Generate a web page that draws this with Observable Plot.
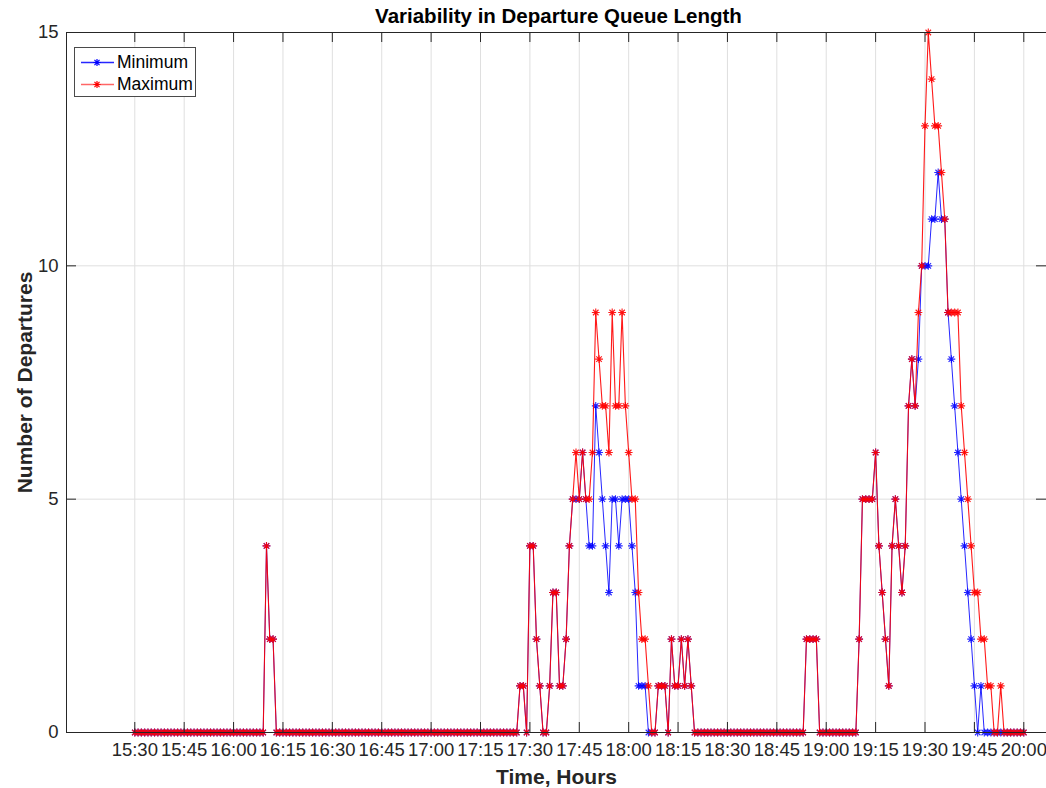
<!DOCTYPE html>
<html><head><meta charset="utf-8">
<script src="https://cdn.jsdelivr.net/npm/d3@7"></script>
<script src="https://cdn.jsdelivr.net/npm/@observablehq/plot@0.6"></script>
<style>
body{margin:0;background:#fff;}
#wrap{position:relative;width:1046px;height:788px;overflow:hidden;font-family:"Liberation Sans",Arial,Helvetica,sans-serif;}
#legend{position:absolute;left:74px;top:47px;width:120px;height:48px;border:1px solid #4a4a4a;background:#fff;}
.lrow{position:absolute;left:0;height:20px;width:120px;}
.lrow svg{position:absolute;left:6px;top:0;}
.lrow span{position:absolute;left:42px;top:0;line-height:20px;font-size:17.5px;color:#000;}
</style></head><body><div id="wrap"></div><script>
// ---- data ----
const startTime = "15:30";           // first sample, one sample per minute
const minValues = [
  0,0,0,0,0,0,0,0,0,0,   // 15:30
  0,0,0,0,0,0,0,0,0,0,   // 15:40
  0,0,0,0,0,0,0,0,0,0,   // 15:50
  0,0,0,0,0,0,0,0,0,0,   // 16:00
  4,2,2,0,0,0,0,0,0,0,   // 16:10
  0,0,0,0,0,0,0,0,0,0,   // 16:20
  0,0,0,0,0,0,0,0,0,0,   // 16:30
  0,0,0,0,0,0,0,0,0,0,   // 16:40
  0,0,0,0,0,0,0,0,0,0,   // 16:50
  0,0,0,0,0,0,0,0,0,0,   // 17:00
  0,0,0,0,0,0,0,0,0,0,   // 17:10
  0,0,0,0,0,0,0,1,1,0,   // 17:20
  4,4,2,1,0,0,1,3,3,1,   // 17:30
  1,2,4,5,5,5,6,5,4,4,   // 17:40
  7,6,5,4,3,5,5,4,5,5,   // 17:50
  5,4,3,1,1,1,0,0,0,1,   // 18:00
  1,1,0,2,1,1,2,1,2,1,   // 18:10
  0,0,0,0,0,0,0,0,0,0,   // 18:20
  0,0,0,0,0,0,0,0,0,0,   // 18:30
  0,0,0,0,0,0,0,0,0,0,   // 18:40
  0,0,0,0,2,2,2,2,0,0,   // 18:50
  0,0,0,0,0,0,0,0,0,0,   // 19:00
  2,5,5,5,5,6,4,3,2,1,   // 19:10
  4,5,4,3,4,7,8,7,8,10,  // 19:20
  10,10,11,11,12,11,11,9,8,7, // 19:30
  6,5,4,3,2,1,0,1,0,0,   // 19:40
  0,0,0,0,0,0,0,0,0,0,   // 19:50
  0                      // 20:00
];
const maxValues = [
  0,0,0,0,0,0,0,0,0,0,   // 15:30
  0,0,0,0,0,0,0,0,0,0,   // 15:40
  0,0,0,0,0,0,0,0,0,0,   // 15:50
  0,0,0,0,0,0,0,0,0,0,   // 16:00
  4,2,2,0,0,0,0,0,0,0,   // 16:10
  0,0,0,0,0,0,0,0,0,0,   // 16:20
  0,0,0,0,0,0,0,0,0,0,   // 16:30
  0,0,0,0,0,0,0,0,0,0,   // 16:40
  0,0,0,0,0,0,0,0,0,0,   // 16:50
  0,0,0,0,0,0,0,0,0,0,   // 17:00
  0,0,0,0,0,0,0,0,0,0,   // 17:10
  0,0,0,0,0,0,0,1,1,0,   // 17:20
  4,4,2,1,0,0,1,3,3,1,   // 17:30
  1,2,4,5,6,5,6,5,5,6,   // 17:40
  9,8,7,7,6,9,7,7,9,7,   // 17:50
  6,5,5,3,2,2,1,0,0,1,   // 18:00
  1,1,0,2,1,1,2,1,2,1,   // 18:10
  0,0,0,0,0,0,0,0,0,0,   // 18:20
  0,0,0,0,0,0,0,0,0,0,   // 18:30
  0,0,0,0,0,0,0,0,0,0,   // 18:40
  0,0,0,0,2,2,2,2,0,0,   // 18:50
  0,0,0,0,0,0,0,0,0,0,   // 19:00
  2,5,5,5,5,6,4,3,2,1,   // 19:10
  4,5,4,3,4,7,8,7,9,10,  // 19:20
  13,15,14,13,13,12,11,9,9,9, // 19:30
  9,7,6,5,4,3,3,2,2,1,   // 19:40
  1,0,0,1,0,0,0,0,0,0,   // 19:50
  0                      // 20:00
];
const xTickLabels = ["15:30","15:45","16:00","16:15","16:30","16:45","17:00","17:15","17:30","17:45",
                     "18:00","18:15","18:30","18:45","19:00","19:15","19:30","19:45","20:00"];
const yTicks = [0, 5, 10, 15];
const seriesNames = ["Minimum", "Maximum"];
const seriesColors = ["#0000ff", "#ff0000"];
const titleText = "Variability in Departure Queue Length";
const xLabelText = "Time, Hours";
const yLabelText = "Number of Departures";

// ---- build ----
const toDate = hm => { const [h, m] = hm.split(":").map(Number); return new Date(Date.UTC(2000, 0, 1, h, m)); };
const t0 = toDate(startTime);
const rows = minValues.map((v, i) => ({t: new Date(+t0 + i * 60000), min: v, max: maxValues[i]}));
const xTicks = xTickLabels.map(toDate);
const xDomain = [new Date(+t0 - 20.74 * 60000), new Date(+t0 + 276.9 * 60000)];

const asterisk = {
  draw(ctx, size) {
    const r = Math.sqrt(size / Math.PI), d = r * Math.SQRT1_2;
    ctx.moveTo(-r, 0); ctx.lineTo(r, 0);
    ctx.moveTo(0, -r); ctx.lineTo(0, r);
    ctx.moveTo(-d, -d); ctx.lineTo(d, d);
    ctx.moveTo(-d, d); ctx.lineTo(d, -d);
  }
};
const axisColor = "#262626";
const gridColor = "#dfdfdf";

const chart = Plot.plot({
  width: 1046, height: 788,
  marginLeft: 66, marginRight: 0, marginTop: 32, marginBottom: 56,
  x: {type: "utc", domain: xDomain, label: null},
  y: {domain: [0, 15], label: null},
  style: {fontFamily: '"Liberation Sans", Arial, Helvetica, sans-serif', fontSize: "18px", color: axisColor, background: "#fff", overflow: "visible"},
  marks: [
    Plot.ruleX(xTicks, {x: d => d, stroke: gridColor}),
    Plot.ruleY(yTicks, {y: d => d, stroke: gridColor}),
    Plot.line(rows, {x: "t", y: "min", stroke: seriesColors[0], strokeWidth: 1, strokeOpacity: 0.85}),
    Plot.dot(rows, {x: "t", y: "min", symbol: asterisk, r: 3.9, fill: "none", stroke: seriesColors[0], strokeWidth: 1.1, strokeOpacity: 0.85}),
    Plot.line(rows, {x: "t", y: "max", stroke: seriesColors[1], strokeWidth: 1.1, strokeOpacity: 0.9}),
    Plot.dot(rows, {x: "t", y: "max", symbol: asterisk, r: 3.9, fill: "none", stroke: seriesColors[1], strokeWidth: 1.1, strokeOpacity: 0.9}),
    Plot.frame({stroke: axisColor}),
    Plot.tickX(xTicks, {x: d => d, insetTop: 690, stroke: axisColor}),
    Plot.tickX(xTicks, {x: d => d, insetBottom: 690, stroke: axisColor}),
    Plot.tickY(yTicks, {y: d => d, insetRight: 970, stroke: axisColor}),
    Plot.tickY(yTicks, {y: d => d, insetLeft: 970, stroke: axisColor}),
    Plot.axisX({ticks: xTicks, tickFormat: (d, i) => xTickLabels[i], tickSize: 0, tickPadding: 10, label: null, fontSize: 18.5, fill: axisColor}),
    Plot.axisY({ticks: yTicks, tickSize: 0, tickPadding: 8, label: null, fontSize: 18.5, fill: axisColor}),
    Plot.text([titleText], {frameAnchor: "top", dy: -16, dx: 2, lineAnchor: "middle", fontWeight: "bold", fontSize: 20.5, fill: "#000"}),
    Plot.text([xLabelText], {frameAnchor: "bottom", dy: 45, lineAnchor: "middle", fontWeight: "bold", fontSize: 21, fill: axisColor}),
    Plot.text([yLabelText], {frameAnchor: "left", dx: -41, rotate: -90, textAnchor: "middle", lineAnchor: "middle", fontWeight: "bold", fontSize: 21, fill: axisColor})
  ]
});
const wrap = document.getElementById("wrap");
wrap.appendChild(chart);

// legend
const legend = document.createElement("div");
legend.id = "legend";
seriesNames.forEach((name, i) => {
  const row = document.createElement("div");
  row.className = "lrow";
  row.style.top = (4 + i * 21.6) + "px";
  const op = i === 0 ? 0.85 : 0.6;
  row.innerHTML = `<svg width="34" height="20"><line x1="0" y1="10.5" x2="33" y2="10.5" stroke="${seriesColors[i]}" stroke-opacity="${op}" stroke-width="1.3"/>
    <path transform="translate(16,10.5)" d="M-3.6,0L3.6,0M0,-3.6L0,3.6M-2.55,-2.55L2.55,2.55M-2.55,2.55L2.55,-2.55" stroke="${seriesColors[i]}" fill="none" stroke-width="1.2"/></svg><span>${name}</span>`;
  legend.appendChild(row);
});
wrap.appendChild(legend);
</script></body></html>
